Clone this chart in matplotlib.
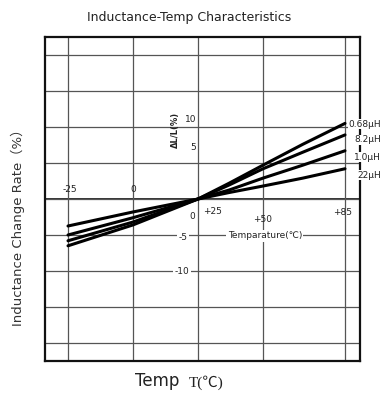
import numpy as np
import matplotlib
matplotlib.use("Agg")
import matplotlib.pyplot as plt

# readings from the datasheet curve (temperature in C, change in %)
temps = [-25, 0, 25, 37, 50, 67, 85]
l_068 = [-6.5, -3.6, 0.0, 2.2, 4.7, 7.6, 10.5]
l_82 = [-5.8, -3.2, 0.0, 1.95, 4.2, 6.5, 8.9]
l_10 = [-5.0, -2.6, 0.0, 1.25, 2.9, 4.7, 6.7]
l_22 = [-3.75, -1.8, 0.0, 0.9, 1.8, 2.9, 4.2]
series = [("0.68µH", l_068), ("8.2µH", l_82), ("1.0µH", l_10), ("22µH", l_22)]
label_vals = [10.4, 8.2, 5.8, 3.3]

x_grid = [-25, 0, 25, 50, 85]
y_grid = [-20, -15, -10, -5, 0, 5, 10, 15, 20]

# the datasheet grid is not to scale: +85 sits closer to +50
knot_t = np.array([-50, -25, 0, 25, 50, 85, 110])
knot_p = np.array([3, 68, 133, 198, 263, 345, 403.6])


def fwd(t):
    return np.interp(t, knot_t, knot_p)


def inv(p):
    return np.interp(p, knot_p, knot_t)


fig = plt.figure(figsize=(3.82, 3.98), dpi=100)
ax = fig.add_axes([45 / 382, 37 / 398, 315 / 382, 324 / 398])
ax.set_xscale("function", functions=(fwd, inv))
ax.set_xlim(-33.85, 91.4)
ax.set_ylim(-22.5, 22.5)

ax.set_xticks(x_grid)
ax.set_yticks(y_grid)
ax.tick_params(length=0, labelbottom=False, labelleft=False)
ax.grid(True, color="#555555", linewidth=0.9)
ax.axhline(0, color="#222222", linewidth=1.3, zorder=1)
for s in ax.spines.values():
    s.set_linewidth(1.6)
    s.set_color("#111111")

for (name, vals), lv in zip(series, label_vals):
    ax.plot(temps, vals, color="black", linewidth=2.2, solid_capstyle="round", zorder=3)
    ax.text(100.4, lv, name, ha="right", va="center", fontsize=6.5, color="#222222",
            bbox=dict(facecolor="white", edgecolor="none", pad=0.3), zorder=4)

small = dict(fontsize=6.5, color="#222222", ha="center", va="center")
wbox = dict(facecolor="white", edgecolor="none", pad=1.0)
ax.text(22.1, 11.0, "10", **small)
ax.text(23.1, 7.1, "5", **small)
ax.text(16.5, 9.6, "ΔL/L(%)", rotation=90, fontweight="bold", fontsize=6, color="#222222",
        ha="center", va="center")
ax.text(22.7, -2.4, "0", **small)
ax.text(30.4, -1.8, "+25", **small)
ax.text(19.2, -5.3, "-5", bbox=wbox, **small)
ax.text(18.8, -10.0, "-10", bbox=wbox, **small)
ax.text(-24.2, 1.25, "-25", **small)
ax.text(0, 1.25, "0", **small)
ax.text(50, -2.9, "+50", **small)
ax.text(84, -1.9, "+85", **small)
ax.text(50.8, -5.1, "Temparature(℃)", bbox=wbox, fontsize=6.5, color="#222222",
        ha="center", va="center", family=["DejaVu Sans", "Noto Sans CJK SC"])

fig.text(189 / 382, 1 - 18 / 398, "Inductance-Temp Characteristics", ha="center", va="center",
         fontsize=9, color="#222222")
fig.text(18 / 382, 1 - 224 / 398, "Inductance Change Rate（%）", rotation=90, ha="center",
         va="center", fontsize=9.5, color="#333333", family=["DejaVu Sans", "Noto Sans CJK SC"])
fig.text(135 / 382, 1 - 381 / 398, "Temp", ha="left", va="center", fontsize=12, color="#222222")
fig.text(189 / 382, 1 - 383 / 398, "T(℃)", ha="left", va="center", fontsize=11, color="#222222",
         family=["Liberation Serif", "Noto Sans CJK SC"])

fig.savefig("out.png", dpi=100)
